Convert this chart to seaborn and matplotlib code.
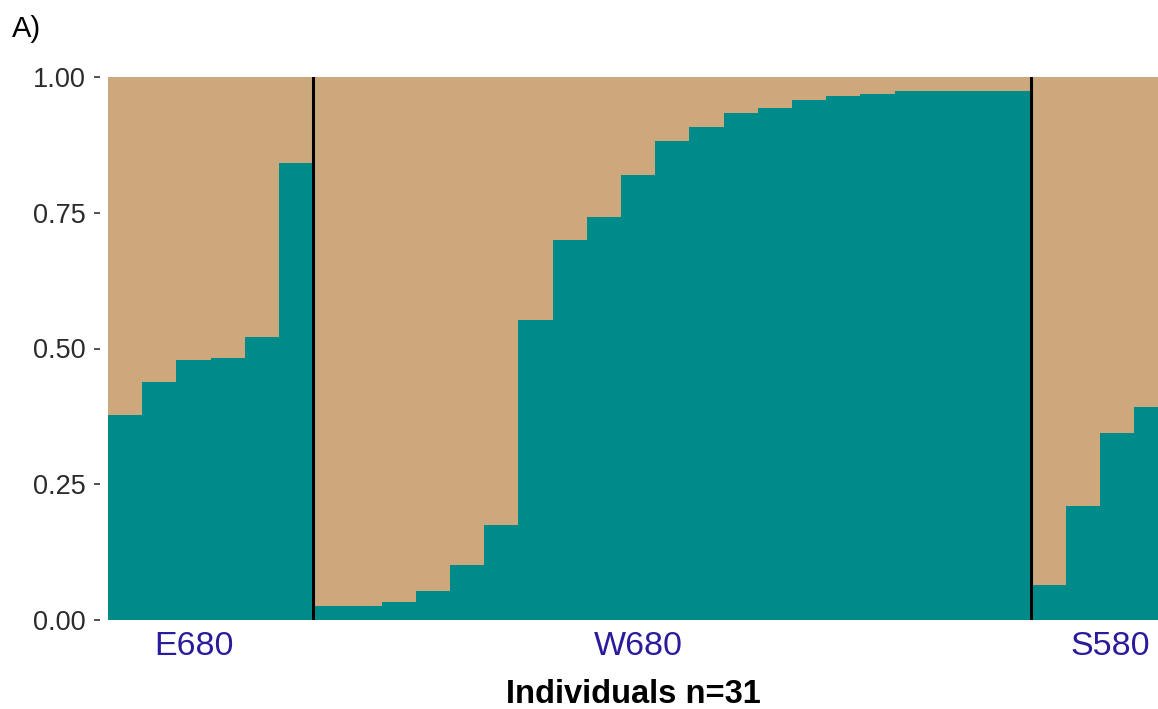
import numpy as np
import pandas as pd
from matplotlib import pyplot as plt
import seaborn as sns

sns.set_style('white')
plt.rcParams['font.family'] = ['Liberation Sans', 'DejaVu Sans']

# ancestry proportions (cluster 1, teal) per individual, by population
pops = ['E680', 'W680', 'S580']
e680 = [0.377, 0.438, 0.479, 0.483, 0.521, 0.842]
w680 = [0.025, 0.025, 0.033, 0.054, 0.102, 0.175, 0.552, 0.700, 0.742, 0.819,
        0.882, 0.907, 0.933, 0.943, 0.958, 0.965, 0.969, 0.974, 0.975, 0.975, 0.975]
s580 = [0.065, 0.210, 0.344, 0.392]
label_pos = [2, 15, 28.8]

teal = '#008B8B'
tan = '#CCA87C'

q1 = e680 + w680 + s580
df = pd.DataFrame({'ind': [str(i) for i in range(len(q1))],
                   'q1': q1})
df['q2'] = 1 - df['q1']
df['total'] = df['q1'] + df['q2']
order = list(df['ind'])

fig = plt.figure(figsize=(11.58, 7.09), dpi=100)
ax = fig.add_axes([108 / 1158, 1 - 620 / 709, 1050 / 1158, 543 / 709])

sns.barplot(data=df, x='ind', y='total', order=order, color=tan, saturation=1,
            width=1, errorbar=None, linewidth=0, ax=ax)
sns.barplot(data=df, x='ind', y='q1', order=order, color=teal, saturation=1,
            width=1, errorbar=None, linewidth=0, ax=ax)

# population boundaries
b1 = len(e680) - 0.5
b2 = len(e680) + len(w680) - 0.5
for b in [b1, b2]:
    ax.axvline(b, ymin=0, ymax=1, color='black', lw=2.2)

ax.set_xlim(-0.5, 30.2)
ax.set_ylim(0, 1)
ax.set_yticks([0, 0.25, 0.5, 0.75, 1.0])
ax.set_yticklabels(['0.00', '0.25', '0.50', '0.75', '1.00'])
ax.set_xticks(label_pos)
ax.set_xticklabels(pops)

for s in ax.spines.values():
    s.set_visible(False)
ax.spines['left'].set_position(('outward', 6))

ax.tick_params(axis='y', left=True, length=4.3, width=1.2, color='#333333',
               pad=5.8, labelsize=19.5, labelcolor='#2b2b2b')
ax.tick_params(axis='x', bottom=False, length=0, pad=8, labelsize=24.5,
               labelcolor='#2A1B9C')

ax.set_ylabel('')
ax.set_xlabel('Individuals n=31', fontsize=23.5, fontweight='bold', color='black',
              va='baseline')
ax.xaxis.set_label_coords(0.5, (620 - 703) / 543)

fig.text(12 / 1158, 1 - 37 / 709, 'A)', fontsize=21, color='black', va='baseline')

fig.savefig('out.png', dpi=100)
